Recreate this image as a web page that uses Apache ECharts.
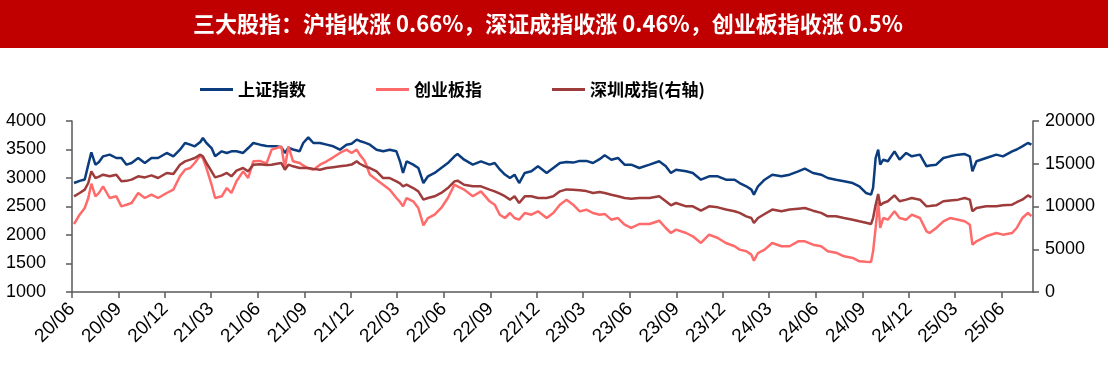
<!DOCTYPE html>
<html>
<head>
<meta charset="utf-8">
<script src="https://cdn.jsdelivr.net/npm/echarts@6/dist/echarts.min.js"></script>
<style>
html,body{margin:0;padding:0;background:#fff;}
#chart{width:1108px;height:368px;}
</style>
</head>
<body>
<div id="chart"></div>
<script>
const titleText = '三大股指：沪指收涨 0.66%，深证成指收涨 0.46%，创业板指收涨 0.5%';
const seriesNames = ['上证指数', '创业板指', '深圳成指(右轴)'];
const xTickLabels = ['20/06','20/09','20/12','21/03','21/06','21/09','21/12','22/03','22/06','22/09','22/12','23/03','23/06','23/09','23/12','24/03','24/06','24/09','24/12','25/03','25/06'];
const xStart = '2020-06-01';
const xEnd = '2025-08-01';

const dates = [
'2020-06-05','2020-06-16','2020-06-26','2020-07-03','2020-07-09','2020-07-17','2020-07-24','2020-08-01','2020-08-14','2020-08-27',
'2020-09-06','2020-09-16','2020-09-26','2020-10-09','2020-10-22','2020-11-04','2020-11-17','2020-12-04','2020-12-17','2020-12-30',
'2021-01-09','2021-01-19','2021-01-28','2021-02-08','2021-02-13','2021-02-20','2021-03-02','2021-03-09','2021-03-22','2021-04-01',
'2021-04-10','2021-04-20','2021-05-03','2021-05-13','2021-05-23','2021-06-05','2021-06-18','2021-06-28','2021-07-08','2021-07-17',
'2021-07-24','2021-07-31','2021-08-09','2021-08-22','2021-08-29','2021-09-08','2021-09-18','2021-10-01','2021-10-14','2021-10-27',
'2021-11-09','2021-11-22','2021-12-02','2021-12-12','2021-12-18','2021-12-28','2022-01-07','2022-01-20','2022-02-02','2022-02-15',
'2022-02-28','2022-03-07','2022-03-13','2022-03-20','2022-04-02','2022-04-12','2022-04-22','2022-05-01','2022-05-14','2022-05-27',
'2022-06-09','2022-06-22','2022-06-28','2022-07-11','2022-07-28','2022-08-13','2022-08-30','2022-09-09','2022-09-19','2022-09-29',
'2022-10-09','2022-10-18','2022-10-27','2022-11-07','2022-11-20','2022-12-03','2022-12-20','2023-01-02','2023-01-15','2023-01-28',
'2023-02-10','2023-02-23','2023-03-08','2023-03-21','2023-04-03','2023-04-13','2023-04-26','2023-05-09','2023-05-22','2023-06-04',
'2023-06-20','2023-07-10','2023-07-29','2023-08-11','2023-08-21','2023-08-31','2023-09-20','2023-10-03','2023-10-19','2023-11-04',
'2023-11-21','2023-12-07','2023-12-24','2024-01-03','2024-01-16','2024-01-26','2024-01-31','2024-02-08','2024-02-21','2024-03-07',
'2024-03-25','2024-04-10','2024-04-27','2024-05-10','2024-05-26','2024-06-11','2024-06-24','2024-07-10','2024-07-26','2024-08-12',
'2024-08-25','2024-09-07','2024-09-17','2024-09-21','2024-09-26','2024-10-01','2024-10-05','2024-10-11','2024-10-20','2024-11-02',
'2024-11-12','2024-11-25','2024-12-06','2024-12-22','2025-01-04','2025-01-10','2025-01-23','2025-02-06','2025-02-19','2025-03-07',
'2025-03-20','2025-03-30','2025-04-04','2025-04-12','2025-05-01','2025-05-21','2025-06-03','2025-06-21','2025-06-30','2025-07-11',
'2025-07-22','2025-07-29'
];

const sse = [
2912,2950,2975,3234,3451,3234,3280,3380,3410,3351,
3351,3234,3263,3351,3263,3351,3351,3439,3380,3497,
3614,3585,3556,3632,3702,3614,3526,3380,3468,3439,
3468,3468,3439,3526,3614,3585,3560,3556,3556,3540,
3440,3530,3500,3470,3614,3714,3614,3614,3585,3556,
3497,3585,3600,3673,3650,3620,3585,3497,3468,3497,
3468,3293,3088,3293,3234,3176,2912,3030,3088,3176,
3263,3380,3421,3321,3234,3293,3234,3263,3150,3060,
3000,3058,2912,3088,3117,3205,3088,3176,3263,3280,
3270,3300,3300,3263,3330,3398,3321,3351,3234,3234,
3176,3234,3293,3205,3088,3146,3117,3088,2970,3030,
3030,2970,2970,2912,2854,2796,2708,2854,2970,3058,
3030,3058,3117,3163,3088,3058,3000,2970,2942,2912,
2854,2737,2708,2825,3351,3497,3234,3321,3293,3468,
3321,3439,3380,3410,3205,3220,3234,3351,3380,3410,
3420,3380,3117,3293,3351,3410,3380,3468,3500,3556,
3614,3585
];

const cyb = [
2193,2356,2474,2649,2900,2679,2740,2854,2649,2679,
2503,2530,2561,2737,2649,2708,2649,2737,2796,3030,
3146,3175,3263,3398,3350,3175,2883,2649,2679,2825,
2737,2942,3117,3000,3293,3300,3257,3497,3526,3556,
3176,3556,3293,3263,3220,3170,3146,3234,3293,3363,
3439,3497,3439,3497,3410,3293,3058,2970,2883,2795,
2649,2580,2503,2649,2591,2474,2170,2298,2356,2474,
2649,2883,2854,2796,2679,2766,2591,2532,2356,2298,
2386,2298,2269,2386,2356,2415,2298,2386,2532,2620,
2532,2415,2444,2386,2356,2370,2269,2298,2181,2123,
2193,2193,2251,2123,2035,2094,2035,1977,1860,2006,
1947,1860,1802,1743,1714,1655,1549,1684,1743,1860,
1802,1802,1889,1889,1830,1802,1714,1690,1626,1597,
1538,1530,1526,1714,2123,2580,2123,2298,2269,2415,
2298,2269,2356,2298,2064,2035,2123,2240,2298,2269,
2240,2181,1830,1889,1977,2035,2006,2035,2123,2298,
2386,2330
];

const szc = [
11190,11580,11970,12750,14120,13330,13500,13720,13530,13720,
12940,13000,13140,13530,13400,13640,13330,13920,13800,14890,
15280,15480,15670,16060,15870,15090,14110,13410,13640,13920,
13530,14190,14500,14110,14890,14950,14850,14890,15000,15090,
14300,14890,14700,14500,14500,14500,14400,14300,14500,14600,
14700,14800,14900,15280,15000,14700,14500,14110,13330,13330,
12940,12700,12360,12550,12160,11770,10800,10990,11190,11580,
12160,12940,13020,12550,12360,12360,11970,11770,11500,11200,
10800,11190,10410,11190,11190,10990,10990,11190,11770,12000,
11970,11900,11800,11580,11700,11580,11380,11190,10990,10900,
10990,10990,11190,10610,10140,10410,10020,10020,9510,10020,
9900,9640,9440,9250,8850,8650,8070,8650,9120,9640,
9440,9640,9750,9830,9510,9250,8850,8850,8650,8460,
8270,8100,7950,8650,10210,11460,10140,10410,10610,11300,
10610,10800,10990,10800,10020,10050,10140,10610,10700,10800,
10990,10800,9440,9830,10020,10020,10140,10210,10500,10800,
11300,11060
];

const DAY = 86400000;
function toUTC(s){ const p = s.split('-').map(Number); return Date.UTC(p[0], p[1]-1, p[2]); }
const t0 = toUTC(xStart);
function dayIndex(s){ return Math.round((toUTC(s) - t0) / DAY); }
const xMax = dayIndex(xEnd);
const tickDays = xTickLabels.map(l => { const p = l.split('/'); return dayIndex('20' + p[0] + '-' + p[1] + '-01'); });
const tickLabelByDay = {};
tickDays.forEach((d, i) => { tickLabelByDay[d] = xTickLabels[i]; });
const xs = dates.map(dayIndex);
const pair = vals => xs.map((x, i) => [x, vals[i]]);

const colors = ['#0B3C7D', '#FF6B6B', '#9E3B3B'];
const axisColor = '#595959';
const labelFont = '"Liberation Sans", Arial, sans-serif';
const cjkFont = '"Noto Sans CJK SC", sans-serif';

const chart = echarts.init(document.getElementById('chart'), null, {renderer: 'canvas'});
chart.setOption({
  animation: false,
  backgroundColor: '#fff',
  graphic: [
    {type: 'rect', left: 0, top: 0, shape: {width: 1108, height: 48}, style: {fill: '#C00000'}, z: 0},
    {type: 'text', x: 548, y: 24, style: {text: titleText, fill: '#fff', font: 'bold 22px ' + cjkFont, textAlign: 'center', textVerticalAlign: 'middle'}, z: 1}
  ],
  legend: {
    left: 195, top: 76, itemWidth: 33, itemHeight: 3, itemGap: 70, icon: 'rect',
    textStyle: {fontFamily: cjkFont, fontWeight: 'bold', fontSize: 17, color: '#000'},
    data: seriesNames
  },
  grid: {left: 72, right: 75, top: 121, bottom: 76, containLabel: false},
  xAxis: {
    type: 'value', min: 0, max: xMax,
    splitLine: {show: false},
    axisLine: {lineStyle: {color: axisColor, width: 1.5}},
    axisTick: {show: true, length: 6, lineStyle: {color: axisColor, width: 1.5}, customValues: tickDays},
    axisLabel: {
      customValues: tickDays, rotate: 45, margin: 14,
      fontSize: 19, fontFamily: labelFont, color: '#000',
      formatter: v => tickLabelByDay[Math.round(v)] || ''
    }
  },
  yAxis: [
    {
      type: 'value', min: 1000, max: 4000, interval: 500, position: 'left',
      splitLine: {show: false},
      axisLine: {show: true, lineStyle: {color: axisColor, width: 1.5}},
      axisTick: {show: true, length: 6, lineStyle: {color: axisColor, width: 1.5}},
      axisLabel: {fontSize: 18, fontFamily: labelFont, color: '#000', margin: 26, formatter: v => String(v)}
    },
    {
      type: 'value', min: 0, max: 20000, interval: 5000, position: 'right',
      splitLine: {show: false},
      axisLine: {show: true, lineStyle: {color: axisColor, width: 1.5}},
      axisTick: {show: true, length: 6, lineStyle: {color: axisColor, width: 1.5}},
      axisLabel: {fontSize: 18, fontFamily: labelFont, color: '#000', margin: 12, formatter: v => String(v)}
    }
  ],
  series: [
    {name: seriesNames[0], type: 'line', yAxisIndex: 0, data: pair(sse), showSymbol: false, lineStyle: {width: 2.5, color: colors[0]}, itemStyle: {color: colors[0]}},
    {name: seriesNames[1], type: 'line', yAxisIndex: 0, data: pair(cyb), showSymbol: false, lineStyle: {width: 2.5, color: colors[1]}, itemStyle: {color: colors[1]}},
    {name: seriesNames[2], type: 'line', yAxisIndex: 1, data: pair(szc), showSymbol: false, lineStyle: {width: 2.5, color: colors[2]}, itemStyle: {color: colors[2]}}
  ]
});
</script>
</body>
</html>
